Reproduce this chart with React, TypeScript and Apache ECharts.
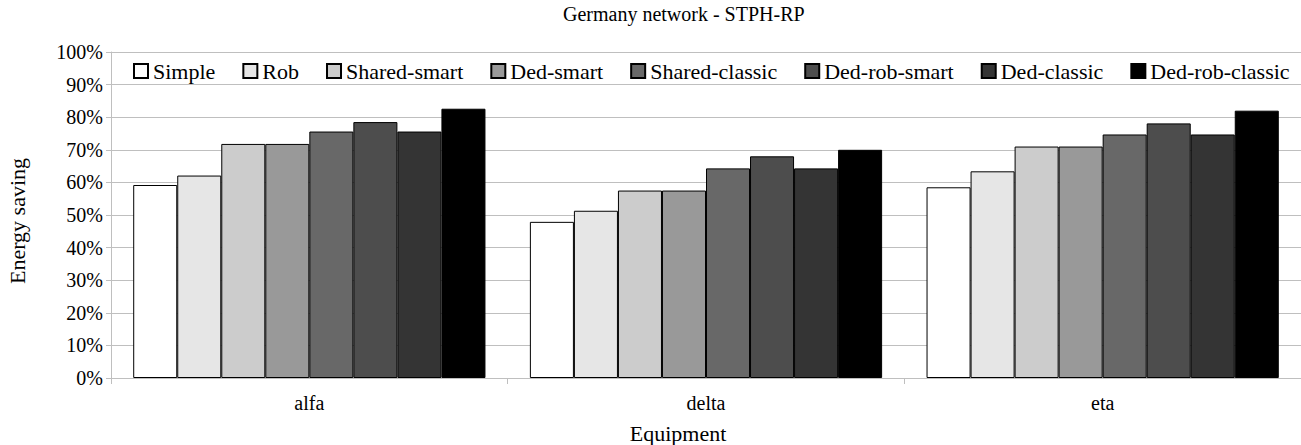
import React, { useEffect, useRef } from "react";
import * as echarts from "echarts";

const categories = ["alfa", "delta", "eta"];
const seriesNames = [
  "Simple",
  "Rob",
  "Shared-smart",
  "Ded-smart",
  "Shared-classic",
  "Ded-rob-smart",
  "Ded-classic",
  "Ded-rob-classic",
];
const simple = [59.2, 47.9, 58.5];
const rob = [62.1, 51.3, 63.4];
const sharedSmart = [71.8, 57.5, 71.0];
const dedSmart = [71.8, 57.5, 71.0];
const sharedClassic = [75.6, 64.3, 74.7];
const dedRobSmart = [78.5, 68.0, 78.1];
const dedClassic = [75.6, 64.3, 74.7];
const dedRobClassic = [82.6, 70.0, 82.0];
const seriesValues = [simple, rob, sharedSmart, dedSmart, sharedClassic, dedRobSmart, dedClassic, dedRobClassic];
const colors = ["#ffffff", "#e6e6e6", "#cccccc", "#999999", "#686868", "#4d4d4d", "#343434", "#000000"];
const yTicks = { min: 0, max: 100, interval: 10 };

const FONT = "Liberation Serif";
const GRID_COLOR = "#bfbfbf";

export default function App() {
  const ref = useRef<HTMLDivElement>(null);
  useEffect(() => {
    if (!ref.current) return;
    const chart = echarts.init(ref.current, null, { renderer: "svg" });
    chart.setOption({
      animation: false,
      backgroundColor: "#ffffff",
      title: {
        text: "Germany network - STPH-RP",
        left: 563,
        top: 4,
        padding: 0,
        textStyle: { fontFamily: FONT, fontSize: 20, fontWeight: "normal", color: "#000" },
      },
      legend: {
        data: seriesNames,
        left: 133,
        top: 60,
        padding: 0,
        itemWidth: 14,
        itemHeight: 14,
        itemGap: 27,
        icon: "rect",
        textStyle: { fontFamily: FONT, fontSize: 22, color: "#000" },
      },
      grid: { left: 111, top: 52, width: 1194, bottom: 67, containLabel: false },
      xAxis: {
        type: "category",
        data: categories,
        axisLine: { show: true, lineStyle: { color: GRID_COLOR, width: 1 } },
        axisTick: { show: true, length: 6, lineStyle: { color: GRID_COLOR } },
        axisLabel: { fontFamily: FONT, fontSize: 20, color: "#000", margin: 15 },
        splitLine: { show: false },
      },
      yAxis: {
        type: "value",
        min: yTicks.min,
        max: yTicks.max,
        interval: yTicks.interval,
        axisLine: { show: true, lineStyle: { color: GRID_COLOR, width: 1 } },
        axisTick: { show: true, length: 5, lineStyle: { color: GRID_COLOR } },
        axisLabel: { fontFamily: FONT, fontSize: 20, color: "#000", margin: 8, formatter: "{value}%" },
        splitLine: { show: true, lineStyle: { color: GRID_COLOR, width: 1 } },
      },
      graphic: [
        {
          type: "text",
          x: 678,
          y: 433,
          style: {
            text: "Equipment",
            fontFamily: FONT,
            fontSize: 22,
            fill: "#000",
            align: "center",
            verticalAlign: "middle",
          },
        },
        {
          type: "text",
          x: 17,
          y: 221,
          rotation: Math.PI / 2,
          style: {
            text: "Energy saving",
            fontFamily: FONT,
            fontSize: 22,
            fill: "#000",
            align: "center",
            verticalAlign: "middle",
          },
        },
      ],
      series: seriesNames.map((name, i) => ({
        name,
        type: "bar",
        data: seriesValues[i],
        barGap: "0%",
        barCategoryGap: "11.2%",
        itemStyle: { color: colors[i], borderColor: "#000", borderWidth: 1 },
      })),
    });
    return () => chart.dispose();
  }, []);
  return <div ref={ref} style={{ position: "fixed", left: 0, top: 0, width: 1301, height: 445 }} />;
}
